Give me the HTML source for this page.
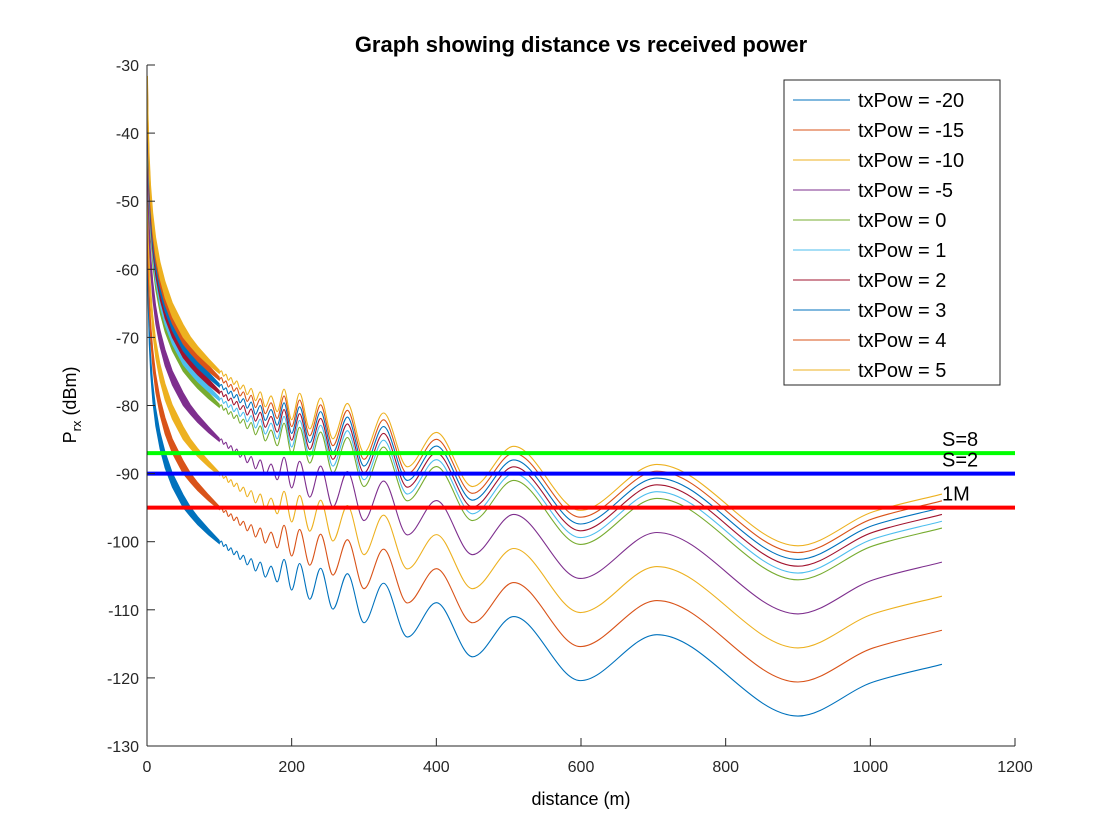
<!DOCTYPE html>
<html><head><meta charset="utf-8"><style>
html,body{margin:0;padding:0;background:#fff;}
svg{display:block;font-family:"Liberation Sans",Arial,sans-serif;}
</style></head><body>
<svg id="chart" width="1120" height="840" viewBox="0 0 1120 840">
<text x="581" y="52" text-anchor="middle" font-size="22" font-weight="bold">Graph showing distance vs received power</text>
<defs><clipPath id="plotclip"><rect x="147" y="65" width="868" height="681"/></clipPath></defs>
<g id="series" clip-path="url(#plotclip)"></g>
<g id="thresholds"></g>
<g id="axes"></g>
<text x="581" y="805" text-anchor="middle" font-size="18">distance (m)</text>
<text transform="translate(76,405) rotate(-90)" text-anchor="middle" font-size="18">P<tspan font-size="13" dy="5">rx</tspan><tspan dy="-5"> (dBm)</tspan></text>
<g id="legend"></g>
</svg>
<script>
// ---- data ----
const txPow = [-20, -15, -10, -5, 0, 1, 2, 3, 4, 5];
const seriesColors = ['#0072BD','#D95319','#EDB120','#7E2F8E','#77AC30','#4DBEEE','#A2142F','#0072BD','#D95319','#EDB120'];
// base curve (txPow = 0) extrema, d >= 100
const baseD = [100,102.9,105.9,109.1,112.5,116.1,120,124.1,128.6,133.3,138.5,144,150,156.5,163.6,171.4,180,189.5,200,211,225,240,257,277,300,327,360,400,450,507,599,705,900,1004,1099];
const baseV = [-80.2,-79.9,-80.7,-80.4,-81.3,-80.9,-81.9,-81.4,-82.6,-82.0,-83.4,-82.5,-84.3,-83.0,-85.2,-83.6,-85.9,-82.6,-87.1,-83.2,-88.45,-83.9,-89.9,-84.7,-91.9,-86.1,-94.0,-88.96,-96.9,-91.0,-100.4,-93.65,-105.6,-100.6,-98.0];
// dense near-field band (txPow = 0), d <= 100
const bandD = [0.8,1.5,3,5,8,12,18,25,35,50,60,70,85,100];
const bandUpper = [-36.6,-42.0,-48.0,-52.6,-56.7,-60.3,-63.9,-66.8,-69.9,-73.1,-74.9,-76.3,-78.1,-79.8];
const bandLower = [-39.6,-45.0,-51.0,-55.4,-59.5,-63.0,-66.4,-69.2,-72.0,-75.0,-76.3,-77.5,-79.0,-80.3];
const thresholdLabels = ['S=8','S=2','1M'];
const thresholdValues = [-87, -90, -95];
const thresholdColors = ['#00FF00','#0000FF','#FF0000'];
const xTicks = [0,200,400,600,800,1000,1200];
const yTicks = [-30,-40,-50,-60,-70,-80,-90,-100,-110,-120,-130];

// ---- axes ----
const X0=147, X1=1015, Y0=65, Y1=746;
const xs = d => X0 + (d-0)/(1200-0)*(X1-X0);
const ys = v => Y0 + (-30 - v)/(100)*(Y1-Y0);
const NS='http://www.w3.org/2000/svg';
function mk(tag, attrs, parent){const e=document.createElementNS(NS,tag);for(const k in attrs)e.setAttribute(k,attrs[k]);parent.appendChild(e);return e;}

function monotonePath(px, py){
  const n=px.length, dx=[], m=[], t=new Array(n);
  for(let i=0;i<n-1;i++){dx.push(px[i+1]-px[i]); m.push((py[i+1]-py[i])/(px[i+1]-px[i]));}
  t[0]=m[0]; t[n-1]=m[n-2];
  for(let i=1;i<n-1;i++){ if(m[i-1]*m[i]<=0) t[i]=0; else { const w1=2*dx[i]+dx[i-1], w2=dx[i]+2*dx[i-1]; t[i]=(w1+w2)/(w1/m[i-1]+w2/m[i]); } }
  let d='M'+px[0].toFixed(2)+','+py[0].toFixed(2);
  for(let i=0;i<n-1;i++){const h=dx[i]/3;
    d+='C'+(px[i]+h).toFixed(2)+','+(py[i]+t[i]*h).toFixed(2)+' '+(px[i+1]-h).toFixed(2)+','+(py[i+1]-t[i+1]*h).toFixed(2)+' '+px[i+1].toFixed(2)+','+py[i+1].toFixed(2);}
  return d;
}

const sg=document.getElementById('series');
txPow.forEach((p,i)=>{
  const g=mk('g',{},sg);
  
  
  let pts=bandD.map((d,j)=>xs(d).toFixed(2)+','+ys(bandUpper[j]+p).toFixed(2));
  for(let j=bandD.length-1;j>=0;j--) pts.push(xs(bandD[j]).toFixed(2)+','+ys(bandLower[j]+p).toFixed(2));
  const band=mk('polygon',{points:pts.join(' '),fill:seriesColors[i],stroke:seriesColors[i],'stroke-width':0.8},g);
  
  
  const line=mk('path',{d:monotonePath(baseD.map(xs),baseV.map(v=>ys(v+p))),fill:'none',stroke:seriesColors[i],'stroke-width':1.1},g);
  
  
});

const tg=document.getElementById('thresholds');
thresholdValues.forEach((v,i)=>{
  const l=mk('line',{x1:X0,x2:X1,y1:ys(v),y2:ys(v),stroke:thresholdColors[i],'stroke-width':4},tg);
  
  
});
thresholdValues.forEach((v,i)=>{
  const t=mk('text',{x:942,y:ys(v)-7,'font-size':20},tg);
  t.textContent=thresholdLabels[i];
  
  
});

const ag=document.getElementById('axes');
mk('line',{x1:X0,x2:X0,y1:Y0,y2:Y1,stroke:'#262626','stroke-width':1},ag);
mk('line',{x1:X0,x2:X1,y1:Y1,y2:Y1,stroke:'#262626','stroke-width':1},ag);
xTicks.forEach(v=>{
  mk('line',{x1:xs(v),x2:xs(v),y1:Y1,y2:Y1-8,stroke:'#262626'},ag);
  const t=mk('text',{x:xs(v),y:Y1+26,'text-anchor':'middle','font-size':16,fill:'#262626'},ag);
  t.textContent=v;
  
  
});
yTicks.forEach(v=>{
  mk('line',{x1:X0,x2:X0+8,y1:ys(v),y2:ys(v),stroke:'#262626'},ag);
  const t=mk('text',{x:X0-8,y:ys(v)+6,'text-anchor':'end','font-size':16,fill:'#262626'},ag);
  t.textContent=v;
  
  
});

const lg=document.getElementById('legend');
mk('rect',{x:784,y:80,width:216,height:305,fill:'#fff',stroke:'#262626','stroke-width':1},lg);
txPow.forEach((p,i)=>{
  const y=100+i*30;
  const e=mk('g',{},lg);
  
  
  mk('line',{x1:793,x2:850,y1:y,y2:y,stroke:seriesColors[i],'stroke-width':1},e);
  const t=mk('text',{x:858,y:y+7,'font-size':20,fill:'#000'},e);
  t.textContent='txPow = '+p;
});
</script>
</body></html>
